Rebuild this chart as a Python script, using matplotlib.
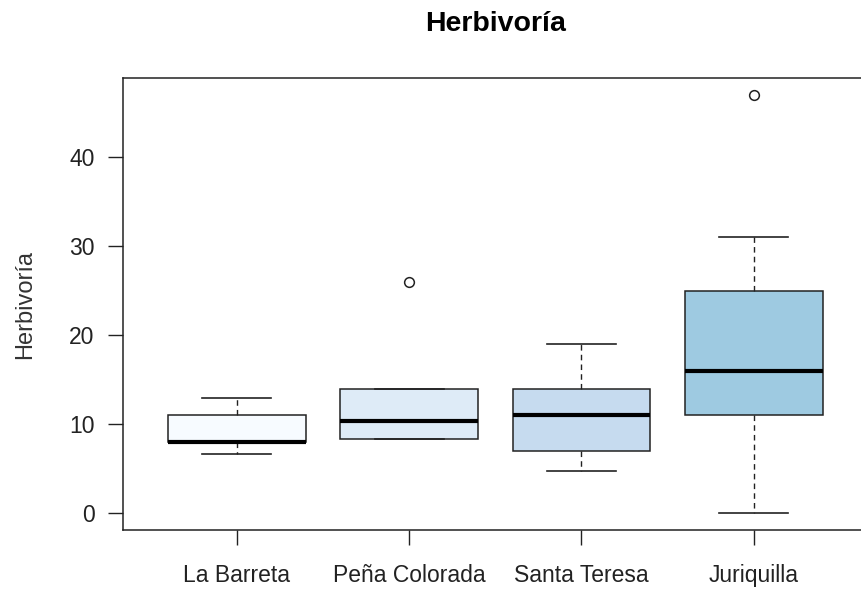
import matplotlib
matplotlib.use("Agg")
import matplotlib.pyplot as plt

# five-number summaries
sitios = ["La Barreta", "Peña Colorada", "Santa Teresa", "Juriquilla"]
q1 = [8.0, 8.3, 7.0, 11.0]
medianas = [8.0, 10.4, 11.0, 16.0]
q3 = [11.0, 14.0, 14.0, 25.0]
bigote_inf = [6.7, 8.3, 4.8, 0.0]
bigote_sup = [13.0, 14.0, 19.0, 31.0]
atipicos = [[], [26.0], [], [47.0]]
colores = ["#F7FBFF", "#DEEBF7", "#C6DBEF", "#9ECAE1"]
yticks = [0, 10, 20, 30, 40]

plt.rcParams["font.family"] = ["Liberation Sans", "DejaVu Sans"]

stats = []
for i, nombre in enumerate(sitios):
    stats.append({
        "label": nombre,
        "q1": q1[i], "med": medianas[i], "q3": q3[i],
        "whislo": bigote_inf[i], "whishi": bigote_sup[i],
        "fliers": atipicos[i],
    })

fig = plt.figure(figsize=(8.61, 5.91), dpi=100)
ax = fig.add_axes([0.1429, 0.1032, 0.8647, 0.7648])

bp = ax.bxp(
    stats,
    positions=range(1, len(sitios) + 1),
    widths=0.8,
    patch_artist=True,
    boxprops=dict(edgecolor="#222222", linewidth=1.1),
    medianprops=dict(color="black", linewidth=3.0, solid_capstyle="butt"),
    whiskerprops=dict(color="#222222", linewidth=1.0, linestyle=(0, (4, 3))),
    capprops=dict(color="#222222", linewidth=1.2),
    capwidths=0.4,
    flierprops=dict(marker="o", markerfacecolor="none", markeredgecolor="#222222",
                    markersize=7, markeredgewidth=1.1),
)
for caja, c in zip(bp["boxes"], colores):
    caja.set_facecolor(c)

ax.set_xlim(0.34, 4.66)
ax.set_ylim(-1.88, 48.88)
ax.set_yticks(yticks)
ax.set_xticks(range(1, len(sitios) + 1))
ax.set_xticklabels(sitios)
ax.tick_params(axis="both", direction="out", length=10.5, width=1.0,
               color="#222222", labelsize=16.5, labelcolor="#222222")
ax.tick_params(axis="y", pad=10)
ax.tick_params(axis="x", pad=14)
for s in ax.spines.values():
    s.set_color("#222222")
    s.set_linewidth(1.1)

ax.set_ylabel("Herbivoría", fontsize=17, color="#333333", labelpad=24)
ax.set_title("Herbivoría", fontsize=20.5, fontweight="bold", pad=34)

fig.savefig("out.png", dpi=100)
